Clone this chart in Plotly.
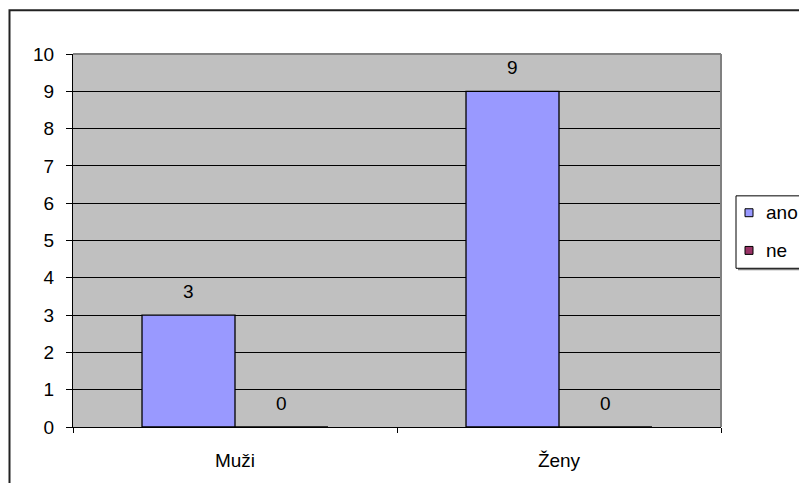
import plotly.graph_objects as go

# Data
categories = ["Muži", "Ženy"]
series_names = ["ano", "ne"]
ano_values = [3, 9]
ne_values = [0, 0]
series_values = [ano_values, ne_values]
series_colors = ["#9999FF", "#993366"]

W, H = 799, 483
L, R, T, B = 73, 78, 54, 53
PW, PH = W - L - R, H - T - B

def px_x(x):
    return (x - L) / PW

def px_y(y):
    return (H - B - y) / PH

FONT = "Liberation Sans, Arial, sans-serif"
FS = 19
BARGAP = 0.426

fig = go.Figure()
for name, vals, col in zip(series_names, series_values, series_colors):
    fig.add_trace(go.Bar(
        x=categories, y=vals, name=name,
        marker=dict(color=col, line=dict(color="black", width=1.3)),
        showlegend=False,
    ))

# value labels above each bar
bar_w = (1 - BARGAP) / len(series_names)
annotations = []
for si, vals in enumerate(series_values):
    off = -(1 - BARGAP) / 2 + bar_w * (si + 0.5)
    for ci, v in enumerate(vals):
        annotations.append(dict(
            x=ci + off, y=v, xref="x", yref="y", text=str(v),
            showarrow=False, yanchor="middle", yshift=24,
            font=dict(size=FS, color="black", family=FONT),
        ))

# legend drawn as a framed box with swatches
shapes = []
lx0, ly0, lx1, ly1 = 736, 197, 802, 270
shapes.append(dict(type="line", xref="paper", yref="paper",
                   x0=px_x(lx0 + 2), y0=px_y(ly1 + 1), x1=px_x(lx1 + 2), y1=px_y(ly1 + 1),
                   line=dict(color="#808080", width=2)))
shapes.append(dict(type="rect", xref="paper", yref="paper",
                   x0=px_x(lx0), y0=px_y(ly1), x1=px_x(lx1), y1=px_y(ly0),
                   fillcolor="white", line=dict(color="black", width=1)))
item_y = [214, 252]
for name, col, iy in zip(series_names, series_colors, item_y):
    shapes.append(dict(type="rect", xref="paper", yref="paper",
                       x0=px_x(745), y0=px_y(iy + 4), x1=px_x(753), y1=px_y(iy - 4),
                       fillcolor=col, line=dict(color="black", width=1)))
    annotations.append(dict(
        x=px_x(764), y=px_y(iy), xref="paper", yref="paper", text=name,
        showarrow=False, xanchor="left", yanchor="middle",
        font=dict(size=FS, color="black", family=FONT),
    ))

# plot area top/right border
shapes.append(dict(type="line", xref="paper", yref="paper", x0=0, y0=1, x1=1, y1=1,
                   line=dict(color="#808080", width=2)))
shapes.append(dict(type="line", xref="paper", yref="paper", x0=1, y0=0, x1=1, y1=1,
                   line=dict(color="#808080", width=2)))

# outer chart frame
shapes.append(dict(type="rect", xref="paper", yref="paper",
                   x0=px_x(9.5), y0=px_y(500), x1=px_x(820), y1=px_y(10),
                   line=dict(color="#222222", width=2)))

fig.update_layout(
    width=W, height=H,
    margin=dict(l=L, r=R, t=T, b=B, pad=0),
    paper_bgcolor="white", plot_bgcolor="#C0C0C0",
    barmode="group", bargap=BARGAP, bargroupgap=0,
    font=dict(family=FONT, size=FS, color="black"),
    showlegend=False,
    annotations=annotations, shapes=shapes,
)
fig.update_xaxes(
    type="category", showline=True, linecolor="black", linewidth=1,
    ticks="outside", tickson="boundaries", ticklen=5, tickcolor="black",
    showgrid=False, ticklabelstandoff=16,
    tickfont=dict(size=FS, family=FONT, color="black"),
)
fig.update_yaxes(
    range=[0, 10], dtick=1, showline=True, linecolor="black", linewidth=1,
    ticks="outside", ticklen=6, tickcolor="black",
    showgrid=True, gridcolor="black", gridwidth=1, zeroline=False,
    ticklabelstandoff=8,
    tickfont=dict(size=FS, family=FONT, color="black"),
)

fig.write_html("out.html")
